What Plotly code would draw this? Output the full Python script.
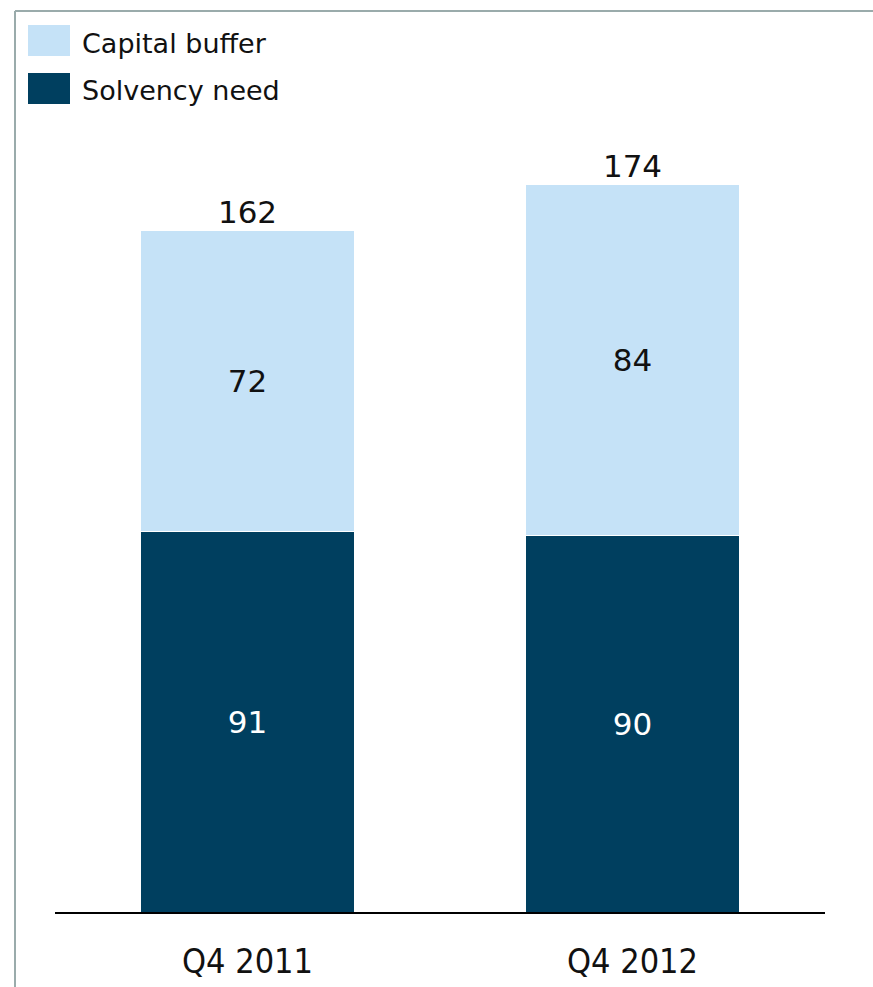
import plotly.graph_objects as go

categories = ["Q4 2011", "Q4 2012"]
solvency_need = [91, 90]
capital_buffer = [72, 84]
totals = [162, 174]

DARK = "#003f5f"
LIGHT = "#c5e2f7"
FONT = "DejaVu Sans"
FONT_C = "DejaVu Sans Condensed"

fig = go.Figure()
fig.add_trace(go.Bar(
    x=categories, y=solvency_need, name="Solvency need",
    marker=dict(color=DARK, line=dict(color="white", width=1)),
    text=[str(v) for v in solvency_need], textposition="inside",
    insidetextanchor="middle",
    textfont=dict(color="white", size=31, family=FONT),
    width=0.556, showlegend=False,
))
fig.add_trace(go.Bar(
    x=categories, y=capital_buffer, name="Capital buffer",
    marker=dict(color=LIGHT, line=dict(color="white", width=1)),
    text=[str(v) for v in capital_buffer], textposition="inside",
    insidetextanchor="middle",
    textfont=dict(color="#111111", size=31, family=FONT),
    width=0.556, showlegend=False,
))
fig.add_trace(go.Scatter(
    x=categories, y=[s + c for s, c in zip(solvency_need, capital_buffer)],
    mode="text", text=[str(t) for t in totals], textposition="top center",
    textfont=dict(color="#111111", size=31, family=FONT),
    showlegend=False, hoverinfo="skip", cliponaxis=False,
))

W, H = 873, 987
L, R, T, B = 55, 48, 0, 75
pw, ph = W - L - R, H - T - B

def px(x):
    return (x - L) / pw

def py(y):
    return (H - B - y) / ph

shapes = [
    dict(type="line", xref="paper", yref="paper", x0=px(15), x1=px(15), y0=py(987), y1=py(11),
         line=dict(color="#9aabab", width=2)),
    dict(type="line", xref="paper", yref="paper", x0=px(15), x1=px(873), y0=py(11), y1=py(11),
         line=dict(color="#9aabab", width=2)),
    dict(type="rect", xref="paper", yref="paper", x0=px(28), x1=px(70), y0=py(56), y1=py(25),
         fillcolor=LIGHT, line=dict(width=0)),
    dict(type="rect", xref="paper", yref="paper", x0=px(28), x1=px(70), y0=py(104), y1=py(73),
         fillcolor=DARK, line=dict(width=0)),
]
annotations = [
    dict(xref="paper", yref="paper", x=px(80), y=py(43), text="Capital buffer", showarrow=False,
         xanchor="left", yanchor="middle", font=dict(size=27, color="#111111", family=FONT)),
    dict(xref="paper", yref="paper", x=px(80), y=py(91), text="Solvency need", showarrow=False,
         xanchor="left", yanchor="middle", font=dict(size=27, color="#111111", family=FONT)),
]

fig.update_layout(
    barmode="stack",
    width=W, height=H,
    margin=dict(l=L, r=R, t=T, b=B),
    paper_bgcolor="white", plot_bgcolor="white",
    shapes=shapes, annotations=annotations,
    xaxis=dict(showline=True, linecolor="black", linewidth=2, ticks="",
               tickfont=dict(size=34, color="#111111", family=FONT_C),
               ticklabelstandoff=18,
               showgrid=False, range=[-0.5, 1.5]),
    yaxis=dict(visible=False, range=[0, 218.2], showgrid=False),
    uniformtext=dict(minsize=10, mode="show"),
)

fig.write_html("out.html")
